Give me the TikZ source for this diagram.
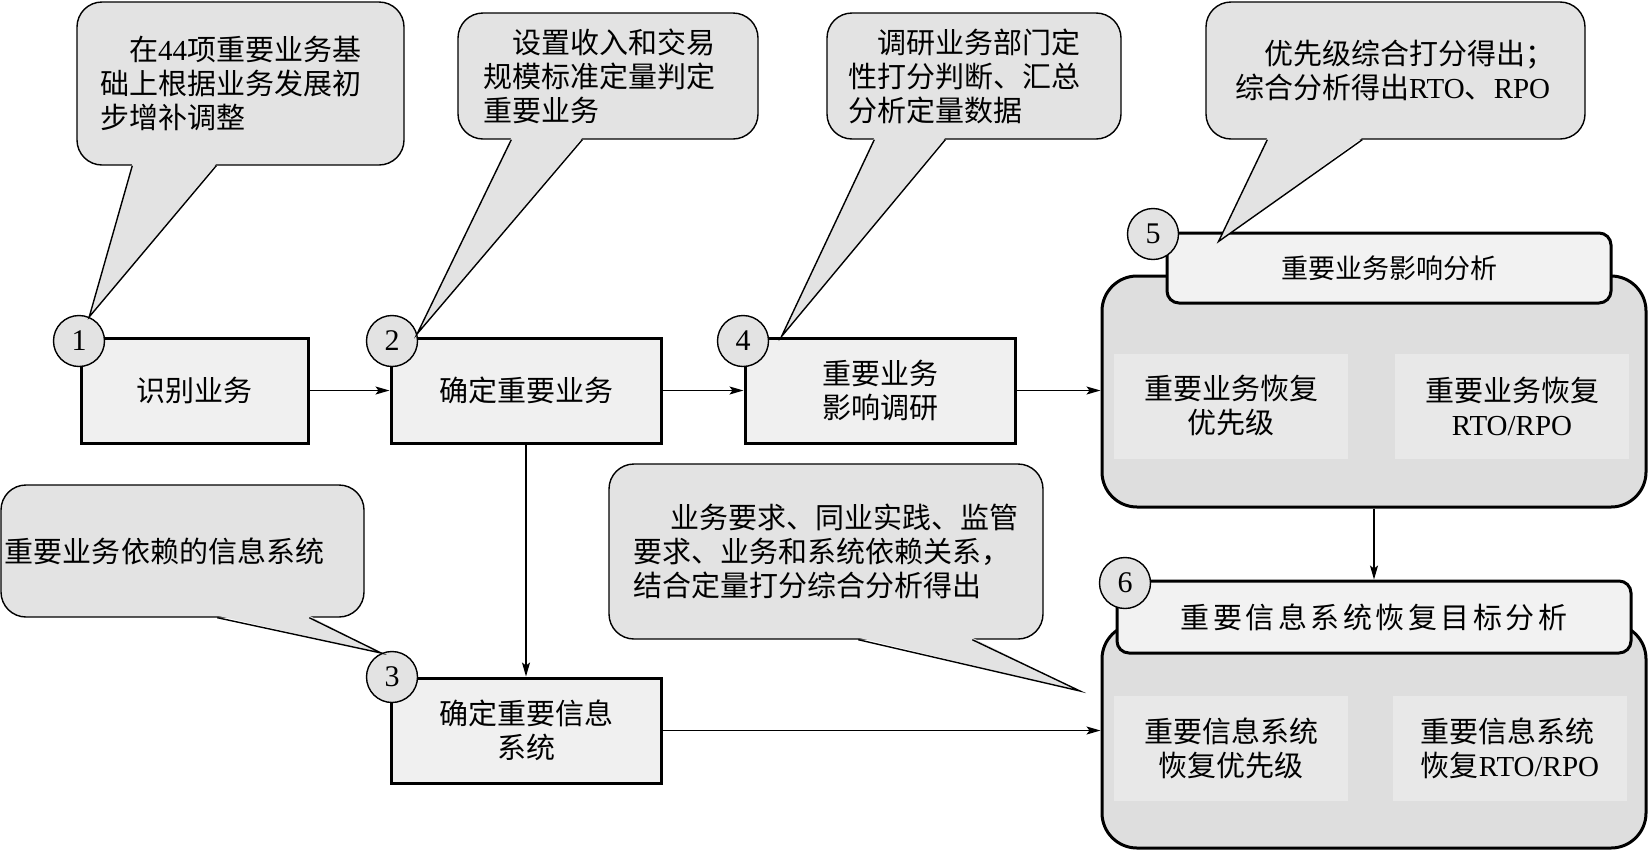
\documentclass[tikz,border=0pt]{standalone}
\usepackage{fontspec}
\setmainfont{Noto Sans CJK SC}
\newfontfamily\latin{Liberation Serif}
\newcommand\lat[1]{{\latin #1}}
\usetikzlibrary{arrows.meta}

\begin{document}
\begin{tikzpicture}[
      x=1pt,y=-1pt,
      >={Stealth[length=14pt,width=8pt,inset=3pt]},
      txt/.style={font=\fontsize{29}{34}\selectfont},
      stepbox/.style={txt,draw=black,line width=3pt,fill=black!6,minimum width=270pt,minimum height=105pt,align=center,inner sep=0pt},
      num/.style={circle,draw=black,line width=1.4pt,fill=black!11,minimum size=51pt,inner sep=0pt,font=\latin\fontsize{30}{30}\selectfont},
      note/.style={txt,draw=black,line width=1.4pt,fill=black!11,rounded corners=25pt,inner xsep=0pt,align=left},
      group/.style={draw=black,line width=3pt,fill=black!13,rounded corners=35pt,minimum width=544pt},
      head/.style={txt,draw=black,line width=3pt,fill=black!5,rounded corners=12pt},
      patch/.style={txt,fill=black!9,minimum width=234pt,minimum height=105pt,align=center},
      flow/.style={->,line width=1.3pt}
    ]
      \useasboundingbox (0,0) rectangle (1648,852);

      \node[stepbox,minimum width=227pt] (step1) at (194.5,390.5) {识别业务};
      \node[stepbox] (step2) at (526,390.5) {确定重要业务};
      \node[stepbox] (step4) at (880,390.5) {重要业务\\影响调研};
      \node[stepbox] (step3) at (526,730.5) {确定重要信息\\系统};

      \node[group,minimum height=231pt] (bia) at (1374,391.5) {};
      \node[group,minimum height=224pt] (rto) at (1374,736) {};
      \node[head,minimum width=444pt,minimum height=70pt,font=\fontsize{27}{32}\selectfont] (biahead) at (1389,268) {重要业务影响分析};
      \node[head,minimum width=514pt,minimum height=72pt] (rtohead) at (1374,617) {\addfontfeature{LetterSpace=12}重要信息系统恢复目标分析};

      \node[patch] (biaprio) at (1231,406) {重要业务恢复\\优先级};
      \node[patch] (biarto) at (1512,406) {重要业务恢复\\\lat{RTO/RPO}};
      \node[patch] (rtoprio) at (1231,748) {重要信息系统\\恢复优先级};
      \node[patch,align=left] (rtorto) at (1510,748) {重要信息系统\\恢复\lat{RTO/RPO}};

      \draw[flow] (step1) -- (step2);
      \draw[flow] (step2) -- (step4);
      \draw[flow] (step4.east) -- (step4.east -| bia.west);
      \draw[flow] (step2) -- (step3);
      \draw[flow] (step3.east) -- (step3.east -| rto.west);
      \draw[flow] (bia) -- (rtohead);

      \node[num] (n1) at (79,341) {1};
      \node[num] (n2) at (392,341) {2};
      \node[num] (n4) at (743,341) {4};
      \node[num] (n3) at (392,677) {3};
      \node[num] (n5) at (1153,234) {5};
      \node[num] (n6) at (1125,583) {6};

      \node[note,minimum width=327pt,minimum height=163pt,text width=281pt] (note1) at (240.5,83.5) {\hspace*{1em}在\lat{44}项重要业务基\\础上根据业务发展初\\步增补调整};
      \node[note,minimum width=300pt,minimum height=126pt,text width=250pt] (note2) at (608,76) {\hspace*{1em}设置收入和交易\\规模标准定量判定\\重要业务};
      \node[note,minimum width=294pt,minimum height=126pt,text width=252pt] (note4) at (974,76) {\hspace*{1em}调研业务部门定\\性打分判断、汇总\\分析定量数据};
      \node[note,minimum width=379pt,minimum height=137pt,text width=321pt] (note5) at (1395.5,70.5) {\hspace*{1em}优先级综合打分得出；\\综合分析得出\lat{RTO}、\lat{RPO}};
      \node[note,minimum width=363pt,minimum height=132pt,text width=355pt] (note3) at (182.5,551) {重要业务依赖的信息系统};
      \node[note,minimum width=434pt,minimum height=175pt,text width=386pt] (note6) at (826,551.5) {\hspace*{1.3em}业务要求、同业实践、监管\\要求、业务和系统依赖关系，\\结合定量打分综合分析得出};

      \coordinate (tip4) at ([xshift=38pt]step4.north west);
      \coordinate (tip5) at ([xshift=53pt,yshift=-10pt]biahead.north west);
      \coordinate (tip6) at (1080,691);

      \foreach \nm/\a/\b/\tip in {note1/56/140/n1.67, note2/54/125/n2.16, note4/48/119/tip4, note5/62/157/tip5, note3/217/309/n3.114, note6/250/364/tip6}{
        \fill[black!11] ([xshift=\a pt,yshift=2pt]\nm.south west) -- (\tip) -- ([xshift=\b pt,yshift=2pt]\nm.south west) -- cycle;
        \draw[line width=1.4pt] ([xshift=\a pt]\nm.south west) -- (\tip) -- ([xshift=\b pt]\nm.south west);
      }
    \end{tikzpicture}
\end{document}
